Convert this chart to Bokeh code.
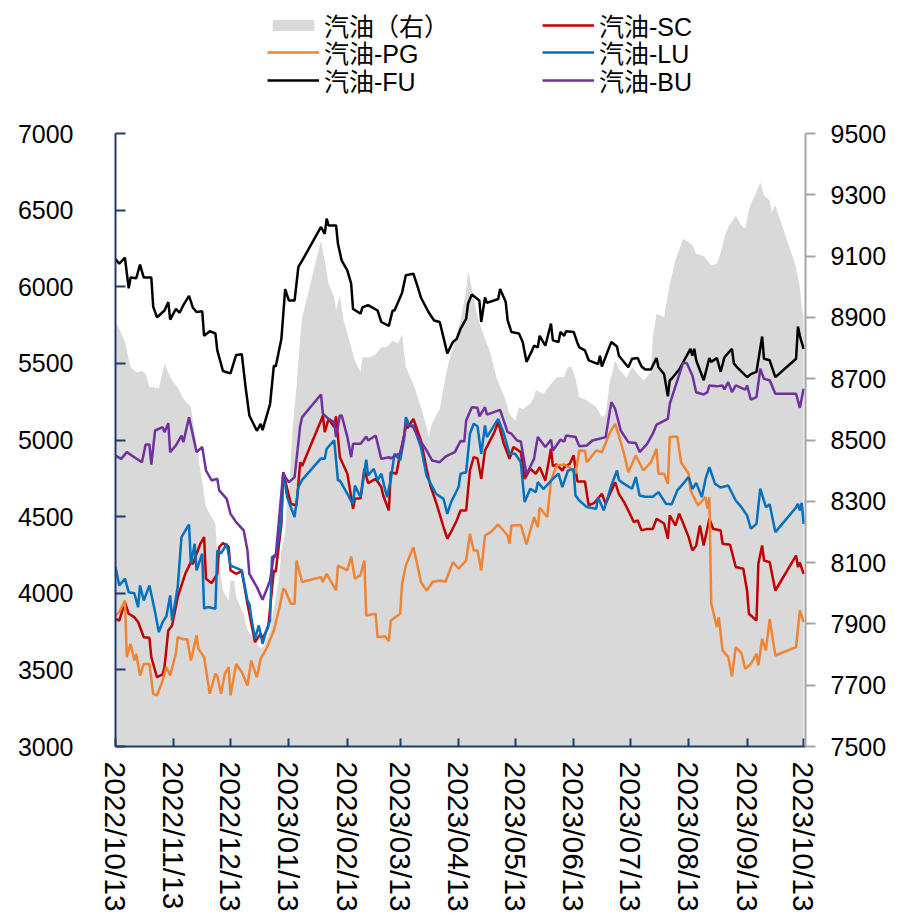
import pandas as pd
from bokeh.plotting import figure
from bokeh.layouts import column
from bokeh.models import (Range1d, LinearAxis, FixedTicker, DatetimeTickFormatter,
                          Legend, LegendItem)
from bokeh.embed import file_html
from bokeh.resources import INLINE

# ---------------- data ----------------
x_ticks = ["2022-10-13", "2022-11-13", "2022-12-13", "2023-01-13", "2023-02-13", "2023-03-13",
           "2023-04-13", "2023-05-13", "2023-06-13", "2023-07-13", "2023-08-13", "2023-09-13",
           "2023-10-13"]
left_ticks = [3000, 3500, 4000, 4500, 5000, 5500, 6000, 6500, 7000]
right_ticks = [7500, 7700, 7900, 8100, 8300, 8500, 8700, 8900, 9100, 9300, 9500]

gas_dates = ["2022-10-13", "2022-10-15", "2022-10-18", "2022-10-21", "2022-10-24", "2022-10-27", "2022-10-29",
             "2022-10-31", "2022-11-03", "2022-11-05", "2022-11-08", "2022-11-10", "2022-11-12", "2022-11-15",
             "2022-11-18", "2022-11-22", "2022-11-26", "2022-11-30", "2022-12-05", "2022-12-06", "2022-12-09",
             "2022-12-12", "2022-12-13", "2022-12-15", "2022-12-16", "2022-12-20", "2022-12-22", "2022-12-26",
             "2022-12-29", "2022-12-31", "2023-01-03", "2023-01-06", "2023-01-08", "2023-01-09", "2023-01-11",
             "2023-01-12", "2023-01-13", "2023-01-15", "2023-01-17", "2023-01-19", "2023-01-20", "2023-01-30",
             "2023-02-01", "2023-02-03", "2023-02-06", "2023-02-07", "2023-02-09", "2023-02-11", "2023-02-15",
             "2023-02-17", "2023-02-20", "2023-02-21", "2023-02-25", "2023-02-28", "2023-03-03", "2023-03-06",
             "2023-03-09", "2023-03-12", "2023-03-14", "2023-03-16", "2023-03-20", "2023-03-24", "2023-03-27",
             "2023-03-28", "2023-03-30", "2023-04-01", "2023-04-03", "2023-04-06", "2023-04-08", "2023-04-10",
             "2023-04-14", "2023-04-17", "2023-04-18", "2023-04-21", "2023-04-23", "2023-04-26", "2023-04-30",
             "2023-05-03", "2023-05-08", "2023-05-10", "2023-05-13", "2023-05-15", "2023-05-17", "2023-05-21",
             "2023-05-23", "2023-05-24", "2023-05-28", "2023-06-01", "2023-06-04", "2023-06-08", "2023-06-10",
             "2023-06-12", "2023-06-14", "2023-06-16", "2023-06-20", "2023-06-25", "2023-06-28", "2023-06-30",
             "2023-07-02", "2023-07-05", "2023-07-07", "2023-07-11", "2023-07-14", "2023-07-17", "2023-07-20",
             "2023-07-24", "2023-07-25", "2023-07-27", "2023-07-31", "2023-08-03", "2023-08-06", "2023-08-10",
             "2023-08-12", "2023-08-15", "2023-08-17", "2023-08-21", "2023-08-25", "2023-08-28", "2023-08-30",
             "2023-09-01", "2023-09-03", "2023-09-07", "2023-09-10", "2023-09-12", "2023-09-14", "2023-09-15",
             "2023-09-18", "2023-09-20", "2023-09-22", "2023-09-25", "2023-09-26", "2023-09-28", "2023-10-09",
             "2023-10-10", "2023-10-11", "2023-10-12", "2023-10-13"]
gas_vals = [8884, 8864, 8819, 8738, 8721, 8725, 8716, 8672, 8672, 8668, 8749, 8720, 8694, 8672, 8634, 8607,
            8443, 8281, 8227, 8130, 8009, 7976, 8042, 8040, 7987, 7933, 7879, 7846, 7819, 7830, 7879, 7987,
            8063, 8140, 8195, 8313, 8335, 8542, 8672, 8835, 8900, 9150, 9086, 9010, 8966, 8923, 8971, 8890,
            8803, 8759, 8721, 8770, 8770, 8780, 8803, 8803, 8825, 8815, 8847, 8738, 8683, 8607, 8542, 8509,
            8555, 8580, 8600, 8705, 8759, 8803, 8890, 8988, 9053, 8966, 8901, 8847, 8781, 8705, 8629, 8585,
            8564, 8607, 8600, 8618, 8640, 8662, 8650, 8683, 8705, 8705, 8738, 8738, 8700, 8640, 8630, 8607,
            8575, 8585, 8683, 8759, 8732, 8705, 8738, 8715, 8694, 8721, 8835, 8912, 8901, 9010, 9086, 9156,
            9150, 9135, 9108, 9100, 9069, 9075, 9110, 9162, 9194, 9232, 9200, 9190, 9249, 9271, 9308, 9341,
            9298, 9281, 9243, 9265, 9064, 9030, 8999, 8933, 8900]

sc_dates = ["2022-10-13", "2022-10-15", "2022-10-18", "2022-10-20", "2022-10-23", "2022-10-25", "2022-10-28",
            "2022-10-31", "2022-11-01", "2022-11-04", "2022-11-07", "2022-11-08", "2022-11-10", "2022-11-12",
            "2022-11-15", "2022-11-19", "2022-11-22", "2022-11-23", "2022-11-27", "2022-11-29", "2022-11-30",
            "2022-12-03", "2022-12-06", "2022-12-07", "2022-12-09", "2022-12-12", "2022-12-13", "2022-12-16",
            "2022-12-19", "2022-12-22", "2022-12-26", "2022-12-29", "2022-12-30", "2023-01-02", "2023-01-05",
            "2023-01-06", "2023-01-07", "2023-01-09", "2023-01-10", "2023-01-14", "2023-01-17", "2023-01-19",
            "2023-01-20", "2023-01-30", "2023-01-31", "2023-02-01", "2023-02-03", "2023-02-06", "2023-02-07",
            "2023-02-09", "2023-02-13", "2023-02-16", "2023-02-17", "2023-02-20", "2023-02-22", "2023-02-24",
            "2023-02-28", "2023-03-03", "2023-03-04", "2023-03-07", "2023-03-08", "2023-03-11", "2023-03-13",
            "2023-03-16", "2023-03-17", "2023-03-20", "2023-03-24", "2023-03-27", "2023-03-29", "2023-04-01",
            "2023-04-05", "2023-04-07", "2023-04-09", "2023-04-12", "2023-04-14", "2023-04-17", "2023-04-19",
            "2023-04-21", "2023-04-23", "2023-04-25", "2023-04-27", "2023-05-02", "2023-05-04", "2023-05-07",
            "2023-05-10", "2023-05-12", "2023-05-16", "2023-05-18", "2023-05-21", "2023-05-24", "2023-05-26",
            "2023-05-29", "2023-06-01", "2023-06-02", "2023-06-04", "2023-06-07", "2023-06-08", "2023-06-11",
            "2023-06-13", "2023-06-15", "2023-06-19", "2023-06-21", "2023-06-24", "2023-06-28", "2023-06-30",
            "2023-07-05", "2023-07-07", "2023-07-10", "2023-07-15", "2023-07-17", "2023-07-19", "2023-07-22",
            "2023-07-25", "2023-07-27", "2023-07-31", "2023-08-02", "2023-08-03", "2023-08-06", "2023-08-08",
            "2023-08-10", "2023-08-13", "2023-08-15", "2023-08-17", "2023-08-19", "2023-08-21", "2023-08-24",
            "2023-08-26", "2023-08-30", "2023-08-31", "2023-09-04", "2023-09-07", "2023-09-11", "2023-09-13",
            "2023-09-14", "2023-09-18", "2023-09-19", "2023-09-21", "2023-09-22", "2023-09-25", "2023-09-28",
            "2023-10-09", "2023-10-10", "2023-10-11", "2023-10-13"]
sc_vals = [3833, 3822, 3942, 3866, 3844, 3812, 3713, 3709, 3583, 3452, 3470, 3518, 3757, 3790, 3974, 4127,
           4203, 4190, 4323, 4366, 4095, 4066, 4127, 4301, 4327, 4305, 4149, 4127, 4144, 3931, 3681, 3736,
           3703, 3779, 4149, 4140, 4246, 4453, 4790, 4584, 4573, 4855, 4830, 5127, 5160, 5051, 5138, 5084,
           5155, 4888, 4780, 4551, 4616, 4620, 4812, 4719, 4747, 4693, 4638, 4540, 4790, 4780, 4910, 5084,
           5080, 5138, 4997, 4812, 4703, 4595, 4432, 4356, 4400, 4475, 4540, 4540, 4801, 4888, 4880, 4747,
           4932, 5051, 5117, 4975, 4877, 4954, 4921, 4747, 4812, 4780, 4823, 4736, 4943, 4830, 4840, 4800,
           4823, 4845, 4900, 4730, 4730, 4573, 4590, 4649, 4584, 4725, 4649, 4590, 4464, 4475, 4410, 4420,
           4420, 4486, 4455, 4356, 4508, 4442, 4519, 4460, 4366, 4279, 4310, 4442, 4312, 4486, 4421, 4410,
           4323, 4316, 4171, 4160, 4018, 3866, 3822, 4193, 4312, 4214, 4203, 4018, 4246, 4171, 4200, 4127]

pg_dates = ["2022-10-13", "2022-10-15", "2022-10-18", "2022-10-19", "2022-10-21", "2022-10-23", "2022-10-24",
            "2022-10-26", "2022-10-28", "2022-10-31", "2022-11-02", "2022-11-04", "2022-11-07", "2022-11-09",
            "2022-11-11", "2022-11-14", "2022-11-15", "2022-11-18", "2022-11-20", "2022-11-22", "2022-11-25",
            "2022-11-26", "2022-11-29", "2022-12-02", "2022-12-05", "2022-12-06", "2022-12-08", "2022-12-10",
            "2022-12-12", "2022-12-13", "2022-12-16", "2022-12-19", "2022-12-22", "2022-12-24", "2022-12-27",
            "2022-12-29", "2023-01-01", "2023-01-05", "2023-01-08", "2023-01-10", "2023-01-11", "2023-01-14",
            "2023-01-16", "2023-01-17", "2023-01-20", "2023-01-30", "2023-01-31", "2023-02-02", "2023-02-07",
            "2023-02-08", "2023-02-13", "2023-02-15", "2023-02-17", "2023-02-20", "2023-02-22", "2023-02-23",
            "2023-02-25", "2023-02-28", "2023-03-01", "2023-03-05", "2023-03-07", "2023-03-08", "2023-03-13",
            "2023-03-14", "2023-03-16", "2023-03-20", "2023-03-22", "2023-03-24", "2023-03-27", "2023-03-29",
            "2023-03-30", "2023-04-03", "2023-04-06", "2023-04-10", "2023-04-13", "2023-04-17", "2023-04-19",
            "2023-04-21", "2023-04-23", "2023-04-25", "2023-04-27", "2023-04-30", "2023-05-04", "2023-05-09",
            "2023-05-10", "2023-05-11", "2023-05-16", "2023-05-19", "2023-05-23", "2023-05-25", "2023-05-26",
            "2023-05-30", "2023-06-01", "2023-06-04", "2023-06-08", "2023-06-11", "2023-06-14", "2023-06-16",
            "2023-06-19", "2023-06-20", "2023-06-25", "2023-06-28", "2023-07-02", "2023-07-05", "2023-07-07",
            "2023-07-10", "2023-07-12", "2023-07-16", "2023-07-20", "2023-07-24", "2023-07-27", "2023-07-28",
            "2023-07-31", "2023-08-02", "2023-08-03", "2023-08-07", "2023-08-09", "2023-08-13", "2023-08-14",
            "2023-08-18", "2023-08-22", "2023-08-23", "2023-08-24", "2023-08-25", "2023-08-28", "2023-08-29",
            "2023-08-31", "2023-09-03", "2023-09-05", "2023-09-07", "2023-09-10", "2023-09-12", "2023-09-15",
            "2023-09-18", "2023-09-19", "2023-09-21", "2023-09-23", "2023-09-25", "2023-09-28", "2023-10-09",
            "2023-10-11", "2023-10-13"]
pg_vals = [3855, 3877, 3953, 3583, 3670, 3561, 3605, 3463, 3539, 3539, 3344, 3333, 3431, 3518, 3463, 3605,
           3713, 3700, 3700, 3561, 3725, 3637, 3583, 3344, 3475, 3460, 3344, 3475, 3518, 3333, 3539, 3485,
           3398, 3561, 3452, 3572, 3637, 3757, 3909, 4029, 4020, 3931, 3931, 4214, 4073, 4105, 4073, 4127,
           4018, 4181, 4150, 4240, 4095, 4120, 4214, 3855, 3860, 3866, 3713, 3720, 3687, 3822, 3866, 4062,
           4181, 4301, 4193, 4073, 4018, 4050, 4073, 4083, 4075, 4203, 4160, 4214, 4388, 4279, 4279, 4149,
           4377, 4399, 4449, 4377, 4323, 4442, 4445, 4318, 4497, 4432, 4558, 4497, 4736, 4834, 4840, 4820,
           4780, 4932, 4930, 4855, 4932, 4920, 5041, 5106, 5029, 4899, 4790, 4899, 4801, 4855, 4943, 4780,
           4780, 4714, 5019, 5023, 4855, 4780, 4671, 4573, 4627, 4551, 4627, 3931, 3779, 3844, 3627, 3583,
           3457, 3648, 3610, 3507, 3539, 3605, 3529, 3703, 3627, 3833, 3594, 3648, 3888, 3812]

lu_dates = ["2022-10-13", "2022-10-15", "2022-10-18", "2022-10-20", "2022-10-23", "2022-10-25", "2022-10-26",
            "2022-10-28", "2022-10-31", "2022-11-03", "2022-11-05", "2022-11-07", "2022-11-09", "2022-11-11",
            "2022-11-12", "2022-11-15", "2022-11-17", "2022-11-21", "2022-11-22", "2022-11-24", "2022-11-25",
            "2022-11-28", "2022-11-29", "2022-12-01", "2022-12-05", "2022-12-06", "2022-12-08", "2022-12-11",
            "2022-12-13", "2022-12-15", "2022-12-19", "2022-12-22", "2022-12-23", "2022-12-24", "2022-12-26",
            "2022-12-28", "2022-12-30", "2023-01-01", "2023-01-03", "2023-01-04", "2023-01-06", "2023-01-09",
            "2023-01-10", "2023-01-12", "2023-01-16", "2023-01-18", "2023-01-20", "2023-01-30", "2023-02-01",
            "2023-02-02", "2023-02-06", "2023-02-08", "2023-02-09", "2023-02-13", "2023-02-15", "2023-02-16",
            "2023-02-17", "2023-02-20", "2023-02-23", "2023-02-24", "2023-02-27", "2023-03-01", "2023-03-03",
            "2023-03-06", "2023-03-08", "2023-03-10", "2023-03-13", "2023-03-15", "2023-03-16", "2023-03-18",
            "2023-03-20", "2023-03-24", "2023-03-27", "2023-04-01", "2023-04-05", "2023-04-07", "2023-04-09",
            "2023-04-13", "2023-04-14", "2023-04-17", "2023-04-19", "2023-04-21", "2023-04-23", "2023-04-25",
            "2023-04-27", "2023-04-28", "2023-05-04", "2023-05-07", "2023-05-10", "2023-05-13", "2023-05-16",
            "2023-05-18", "2023-05-21", "2023-05-24", "2023-05-25", "2023-05-28", "2023-05-31", "2023-06-02",
            "2023-06-05", "2023-06-07", "2023-06-10", "2023-06-13", "2023-06-14", "2023-06-16", "2023-06-20",
            "2023-06-25", "2023-06-26", "2023-06-29", "2023-07-03", "2023-07-06", "2023-07-07", "2023-07-09",
            "2023-07-14", "2023-07-16", "2023-07-18", "2023-07-21", "2023-07-25", "2023-07-28", "2023-08-01",
            "2023-08-04", "2023-08-07", "2023-08-10", "2023-08-13", "2023-08-15", "2023-08-17", "2023-08-20",
            "2023-08-22", "2023-08-24", "2023-08-27", "2023-08-30", "2023-09-03", "2023-09-07", "2023-09-10",
            "2023-09-13", "2023-09-15", "2023-09-18", "2023-09-20", "2023-09-23", "2023-09-25", "2023-09-28",
            "2023-10-09", "2023-10-10", "2023-10-11", "2023-10-12", "2023-10-13"]
lu_vals = [4171, 4051, 4095, 4007, 4000, 3909, 4051, 3953, 4051, 3877, 3746, 3812, 3850, 3986, 3822, 4040,
           4366, 4449, 4193, 4323, 4149, 4258, 3899, 3910, 3899, 4279, 4260, 4323, 4181, 4170, 4149, 3953,
           3930, 3844, 3703, 3790, 3670, 3757, 3822, 4236, 4240, 4475, 4790, 4627, 4497, 4693, 4740, 4880,
           4877, 4943, 4997, 4736, 4736, 4649, 4600, 4584, 4703, 4627, 4871, 4768, 4812, 4736, 4780, 4627,
           4740, 4910, 4866, 5000, 5149, 5095, 5095, 4954, 4768, 4649, 4616, 4518, 4595, 4693, 4780, 4790,
           5041, 5106, 5090, 4910, 5095, 5019, 5138, 5041, 4910, 4910, 4855, 4595, 4682, 4660, 4725, 4680,
           4720, 4747, 4780, 4693, 4801, 4810, 4638, 4605, 4562, 4551, 4627, 4540, 4703, 4801, 4740, 4720,
           4682, 4758, 4638, 4630, 4630, 4660, 4584, 4580, 4671, 4714, 4758, 4680, 4720, 4627, 4747, 4823,
           4714, 4690, 4703, 4605, 4562, 4508, 4421, 4453, 4682, 4562, 4580, 4399, 4560, 4584, 4540, 4590,
           4453]

fu_dates = ["2022-10-13", "2022-10-15", "2022-10-18", "2022-10-20", "2022-10-21", "2022-10-24", "2022-10-26",
            "2022-10-28", "2022-11-01", "2022-11-02", "2022-11-04", "2022-11-08", "2022-11-10", "2022-11-11",
            "2022-11-14", "2022-11-16", "2022-11-18", "2022-11-21", "2022-11-23", "2022-11-25", "2022-11-28",
            "2022-11-29", "2022-12-02", "2022-12-05", "2022-12-06", "2022-12-09", "2022-12-13", "2022-12-16",
            "2022-12-19", "2022-12-21", "2022-12-23", "2022-12-27", "2022-12-29", "2022-12-30", "2023-01-03",
            "2023-01-05", "2023-01-06", "2023-01-09", "2023-01-11", "2023-01-13", "2023-01-16", "2023-01-18",
            "2023-01-20", "2023-01-30", "2023-02-01", "2023-02-02", "2023-02-03", "2023-02-07", "2023-02-08",
            "2023-02-10", "2023-02-13", "2023-02-15", "2023-02-16", "2023-02-20", "2023-02-21", "2023-02-24",
            "2023-03-01", "2023-03-03", "2023-03-07", "2023-03-09", "2023-03-10", "2023-03-14", "2023-03-16",
            "2023-03-20", "2023-03-22", "2023-03-24", "2023-03-28", "2023-03-31", "2023-04-03", "2023-04-07",
            "2023-04-10", "2023-04-12", "2023-04-14", "2023-04-17", "2023-04-18", "2023-04-20", "2023-04-24",
            "2023-04-25", "2023-04-27", "2023-04-28", "2023-05-04", "2023-05-05", "2023-05-08", "2023-05-09",
            "2023-05-11", "2023-05-15", "2023-05-17", "2023-05-19", "2023-05-22", "2023-05-23", "2023-05-25",
            "2023-05-26", "2023-05-29", "2023-06-01", "2023-06-02", "2023-06-05", "2023-06-06", "2023-06-08",
            "2023-06-09", "2023-06-13", "2023-06-15", "2023-06-16", "2023-06-19", "2023-06-21", "2023-06-26",
            "2023-06-27", "2023-06-28", "2023-07-03", "2023-07-06", "2023-07-07", "2023-07-12", "2023-07-14",
            "2023-07-17", "2023-07-19", "2023-07-21", "2023-07-24", "2023-07-27", "2023-07-28", "2023-07-31",
            "2023-08-02", "2023-08-03", "2023-08-04", "2023-08-08", "2023-08-14", "2023-08-15", "2023-08-16",
            "2023-08-17", "2023-08-21", "2023-08-24", "2023-08-25", "2023-08-28", "2023-08-30", "2023-09-01",
            "2023-09-05", "2023-09-06", "2023-09-08", "2023-09-13", "2023-09-15", "2023-09-18", "2023-09-21",
            "2023-09-22", "2023-09-25", "2023-09-28", "2023-10-09", "2023-10-10", "2023-10-11", "2023-10-13"]
fu_vals = [6180, 6150, 6190, 5990, 6060, 6055, 6145, 6060, 6060, 5870, 5800, 5845, 5900, 5785, 5855, 5830,
           5880, 5940, 5865, 5835, 5840, 5680, 5710, 5695, 5585, 5450, 5435, 5555, 5560, 5345, 5160, 5060,
           5105, 5065, 5235, 5485, 5480, 5660, 5985, 5910, 5910, 6130, 6170, 6390, 6345, 6445, 6400, 6400,
           6280, 6170, 6105, 6020, 5855, 5825, 5865, 5880, 5845, 5770, 5745, 5845, 5845, 5960, 6075, 6085,
           6010, 5930, 5835, 5780, 5770, 5565, 5640, 5660, 5725, 5790, 5890, 5950, 5910, 5770, 5930, 5895,
           5920, 5985, 5900, 5780, 5705, 5695, 5640, 5510, 5585, 5615, 5605, 5680, 5615, 5760, 5650, 5640,
           5705, 5680, 5710, 5705, 5635, 5605, 5585, 5520, 5495, 5550, 5480, 5640, 5610, 5550, 5475, 5530,
           5535, 5480, 5460, 5460, 5535, 5475, 5430, 5285, 5390, 5400, 5460, 5595, 5550, 5595, 5520, 5390,
           5535, 5510, 5535, 5445, 5540, 5595, 5500, 5470, 5410, 5430, 5445, 5675, 5530, 5520, 5410, 5530,
           5740, 5680, 5595]

bu_dates = ["2022-10-13", "2022-10-16", "2022-10-19", "2022-10-23", "2022-10-27", "2022-10-29", "2022-10-31",
            "2022-11-01", "2022-11-03", "2022-11-07", "2022-11-08", "2022-11-10", "2022-11-11", "2022-11-14",
            "2022-11-17", "2022-11-18", "2022-11-21", "2022-11-25", "2022-11-28", "2022-11-30", "2022-12-03",
            "2022-12-06", "2022-12-07", "2022-12-11", "2022-12-13", "2022-12-16", "2022-12-20", "2022-12-22",
            "2022-12-23", "2022-12-27", "2022-12-30", "2023-01-03", "2023-01-05", "2023-01-06", "2023-01-10",
            "2023-01-11", "2023-01-13", "2023-01-16", "2023-01-19", "2023-01-20", "2023-01-30", "2023-01-31",
            "2023-02-03", "2023-02-06", "2023-02-07", "2023-02-09", "2023-02-10", "2023-02-13", "2023-02-15",
            "2023-02-16", "2023-02-20", "2023-02-23", "2023-02-24", "2023-02-28", "2023-03-03", "2023-03-07",
            "2023-03-08", "2023-03-13", "2023-03-15", "2023-03-16", "2023-03-20", "2023-03-23", "2023-03-27",
            "2023-03-30", "2023-04-03", "2023-04-06", "2023-04-09", "2023-04-11", "2023-04-14", "2023-04-16",
            "2023-04-17", "2023-04-20", "2023-04-23", "2023-04-24", "2023-04-27", "2023-04-28", "2023-05-05",
            "2023-05-09", "2023-05-11", "2023-05-14", "2023-05-16", "2023-05-19", "2023-05-23", "2023-05-25",
            "2023-05-29", "2023-06-01", "2023-06-02", "2023-06-06", "2023-06-08", "2023-06-09", "2023-06-14",
            "2023-06-16", "2023-06-20", "2023-06-23", "2023-06-30", "2023-07-03", "2023-07-05", "2023-07-08",
            "2023-07-12", "2023-07-16", "2023-07-18", "2023-07-22", "2023-07-25", "2023-07-27", "2023-08-02",
            "2023-08-03", "2023-08-10", "2023-08-12", "2023-08-15", "2023-08-17", "2023-08-21", "2023-08-23",
            "2023-08-24", "2023-08-28", "2023-08-31", "2023-09-01", "2023-09-03", "2023-09-05", "2023-09-07",
            "2023-09-12", "2023-09-13", "2023-09-15", "2023-09-18", "2023-09-20", "2023-09-22", "2023-09-25",
            "2023-09-28", "2023-10-09", "2023-10-11", "2023-10-13"]
bu_vals = [4899, 4877, 4921, 4888, 4855, 4971, 4971, 4840, 5062, 5084, 5051, 5110, 4921, 4964, 5029, 4986,
           5149, 4921, 4954, 4801, 4736, 4747, 4671, 4616, 4518, 4464, 4410, 4279, 4127, 4040, 3957, 4083,
           4246, 4246, 4790, 4758, 4725, 4758, 5095, 5149, 5297, 5171, 5138, 5117, 5019, 5160, 5160, 5019,
           4888, 4975, 4975, 5023, 4997, 5029, 4877, 4888, 4880, 4914, 5019, 5106, 5084, 5008, 4932, 4866,
           4855, 4892, 4910, 4921, 4993, 4990, 5127, 5214, 5210, 5154, 5214, 5166, 5197, 5051, 5041, 4997,
           4990, 4775, 4877, 5019, 4954, 5002, 4932, 5002, 4990, 5029, 5020, 4960, 4964, 4997, 5019, 5247,
           5204, 5062, 4986, 4980, 4921, 4975, 5041, 5100, 5138, 5236, 5502, 5502, 5421, 5312, 5297, 5312,
           5356, 5350, 5356, 5330, 5378, 5312, 5356, 5328, 5356, 5263, 5280, 5465, 5399, 5390, 5302, 5302,
           5210, 5334]

labels = ["汽油（右）", "汽油-SC", "汽油-PG", "汽油-LU", "汽油-FU", "汽油-BU"]
colors = ["#D9D9D9", "#C00000", "#F08432", "#0070C0", "#000000", "#7030A0"]

# ---------------- styling constants ----------------
AXIS_BLUE = "#1F3A6E"
NUM_FONT = "Liberation Sans"
LEG_H = 100

# ---------------- legend strip (separate figure so nothing is clipped) ----------------
lf = figure(width=897, height=LEG_H, output_backend="svg", toolbar_location=None,
            x_axis_location=None, y_axis_location=None, min_border=0,
            x_range=Range1d(0, 1), y_range=Range1d(0, 1))
lf.outline_line_color = None
lf.xgrid.visible = False
lf.ygrid.visible = False
lf.background_fill_color = "white"
lf.border_fill_color = "white"

# key-only renderers, placed outside the strip's visible range
lg_area = lf.varea(x=[5, 6], y1=[5, 5], y2=[6, 6], fill_color=colors[0])
lg_lines = [lf.line(x=[5, 6], y=[5, 6], line_color=c, line_width=2.5) for c in colors[1:]]
lg_r = [lg_area] + lg_lines


def row_legend(idx, vy):
    # one legend per row: two items, second one starting 275 px after the first
    return Legend(items=[LegendItem(label=labels[i], renderers=[lg_r[i]]) for i in idx],
                  location=(152, vy), orientation="horizontal",
                  label_text_font="Liberation Sans, Noto Sans CJK SC",
                  label_text_font_size="25px", label_text_color="black",
                  glyph_width=52, glyph_height=14, label_width=218, label_standoff=5,
                  spacing=0, padding=0, margin=0, border_line_color=None,
                  background_fill_alpha=0)


row_centers = [25, 52, 80]
for r, idx in enumerate([[0, 1], [2, 3], [4, 5]]):
    lf.add_layout(row_legend(idx, LEG_H - row_centers[r] - 18), "center")

# ---------------- main figure ----------------
p = figure(width=897, height=914 - LEG_H, x_axis_type="datetime", output_backend="svg",
           toolbar_location=None, min_border_left=115, min_border_right=92,
           min_border_top=133 - LEG_H, min_border_bottom=168)
p.x_range = Range1d(pd.Timestamp("2022-10-13"), pd.Timestamp("2023-10-14"))
p.y_range = Range1d(3000, 7000)
p.extra_y_ranges = {"right": Range1d(7500, 9500)}
p.background_fill_color = "white"
p.border_fill_color = "white"
p.outline_line_color = None
p.xgrid.visible = False
p.ygrid.visible = False

p.varea(x=pd.to_datetime(gas_dates), y1=7500, y2=gas_vals, y_range_name="right",
        fill_color=colors[0])
p.line(pd.to_datetime(sc_dates), sc_vals, line_color=colors[1], line_width=2.5)
p.line(pd.to_datetime(pg_dates), pg_vals, line_color=colors[2], line_width=2.5)
p.line(pd.to_datetime(lu_dates), lu_vals, line_color=colors[3], line_width=2.5)
p.line(pd.to_datetime(fu_dates), fu_vals, line_color=colors[4], line_width=2.5)
p.line(pd.to_datetime(bu_dates), bu_vals, line_color=colors[5], line_width=2.5)

# x axis
xa = p.xaxis[0]
xa.ticker = FixedTicker(ticks=[pd.Timestamp(t).value / 1e6 for t in x_ticks])
fmt = "%Y/%m/%d"
xa.formatter = DatetimeTickFormatter(milliseconds=fmt, seconds=fmt, minsec=fmt, minutes=fmt,
                                     hourmin=fmt, hours=fmt, days=fmt, months=fmt, years=fmt)
xa.major_label_orientation = "vertical"
xa.major_label_text_font = NUM_FONT
xa.major_label_text_font_size = "30px"
xa.major_label_text_color = "black"
xa.major_label_standoff = 15
xa.axis_line_color = AXIS_BLUE
xa.axis_line_width = 2
xa.major_tick_line_color = AXIS_BLUE
xa.major_tick_line_width = 2
xa.major_tick_in = 8
xa.major_tick_out = 0
xa.minor_tick_line_color = None

# left axis
ya = p.yaxis[0]
ya.ticker = FixedTicker(ticks=left_ticks)
ya.major_label_text_font = NUM_FONT
ya.major_label_text_font_size = "25px"
ya.major_label_text_color = "black"
ya.major_label_standoff = 42
ya.axis_line_color = AXIS_BLUE
ya.axis_line_width = 2
ya.major_tick_line_color = AXIS_BLUE
ya.major_tick_line_width = 2
ya.major_tick_in = 10
ya.major_tick_out = 0
ya.minor_tick_line_color = None

# right axis
ra = LinearAxis(y_range_name="right", ticker=FixedTicker(ticks=right_ticks))
ra.major_label_text_font = NUM_FONT
ra.major_label_text_font_size = "25px"
ra.major_label_text_color = "black"
ra.major_label_standoff = 15
ra.axis_line_color = "#A6A6A6"
ra.axis_line_width = 2
ra.major_tick_line_color = "#A6A6A6"
ra.major_tick_line_width = 2
ra.major_tick_in = 0
ra.major_tick_out = 10
ra.minor_tick_line_color = None
p.add_layout(ra, "right")

layout = column(lf, p, spacing=0)
open("out.html", "w").write(file_html(layout, INLINE))
